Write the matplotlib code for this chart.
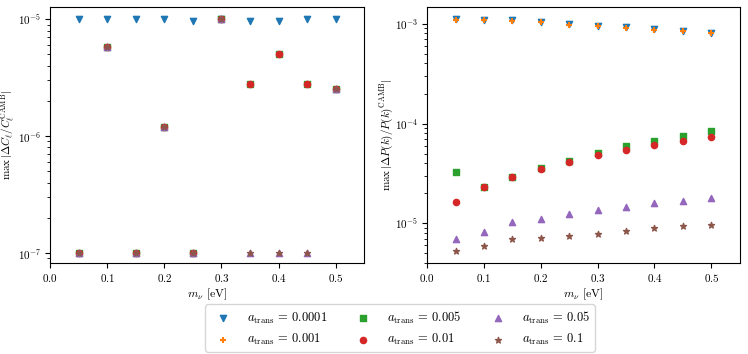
import matplotlib
matplotlib.use("Agg")
import matplotlib.pyplot as plt

plt.rcParams['mathtext.fontset'] = 'cm'
plt.rcParams['font.family'] = 'serif'
plt.rcParams['font.serif'] = ['cmr10', 'DejaVu Serif']
plt.rcParams['axes.formatter.use_mathtext'] = True

# neutrino masses [eV]
m_nu = [0.05, 0.10, 0.15, 0.20, 0.25, 0.30, 0.35, 0.40, 0.45, 0.50]

a_trans = ['0.0001', '0.001', '0.005', '0.01', '0.05', '0.1']
markers = ['v', '+', 's', 'o', '^', '*']
colors = ['C0', 'C1', 'C2', 'C3', 'C4', 'C5']

# left panel: max |dCl / Cl^CAMB|
cl_00001 = [1.0e-5, 1.0e-5, 1.0e-5, 1.0e-5, 0.97e-5, 1.0e-5, 0.97e-5, 0.96e-5, 1.0e-5, 1.0e-5]
cl_0001 = [1e-7, 5.8e-6, 1e-7, 1.2e-6, 1e-7, 1.0e-5, 2.8e-6, 5.0e-6, 2.8e-6, 2.55e-6]
cl_0005 = [1e-7, 5.8e-6, 1e-7, 1.2e-6, 1e-7, 1.0e-5, 2.8e-6, 5.0e-6, 2.8e-6, 2.55e-6]
cl_001 = [1e-7, 5.8e-6, 1e-7, 1.2e-6, 1e-7, 1.0e-5, 2.8e-6, 5.0e-6, 2.8e-6, 2.55e-6]
cl_005 = [1e-7, 5.8e-6, 1e-7, 1.2e-6, 1e-7, 1.0e-5, 1e-7, 1e-7, 1e-7, 2.55e-6]
cl_01 = [1e-7, 5.8e-6, 1e-7, 1.2e-6, 1e-7, 1.0e-5, 1e-7, 1e-7, 1e-7, 2.55e-6]

# right panel: max |dP(k) / P(k)^CAMB|
pk_00001 = [1.11e-3, 1.10e-3, 1.08e-3, 1.05e-3, 1.00e-3, 0.96e-3, 0.93e-3, 0.88e-3, 0.85e-3, 0.81e-3]
pk_0001 = [1.09e-3, 1.08e-3, 1.06e-3, 1.03e-3, 0.98e-3, 0.95e-3, 0.91e-3, 0.87e-3, 0.84e-3, 0.80e-3]
pk_0005 = [3.27e-5, 2.29e-5, 2.94e-5, 3.58e-5, 4.2e-5, 5.08e-5, 5.9e-5, 6.68e-5, 7.43e-5, 8.33e-5]
pk_001 = [1.65e-5, 2.29e-5, 2.9e-5, 3.53e-5, 4.14e-5, 4.82e-5, 5.44e-5, 6.05e-5, 6.68e-5, 7.31e-5]
pk_005 = [7.0e-6, 8.2e-6, 1.02e-5, 1.1e-5, 1.23e-5, 1.35e-5, 1.45e-5, 1.59e-5, 1.68e-5, 1.79e-5]
pk_01 = [5.24e-6, 5.9e-6, 7.0e-6, 7.05e-6, 7.43e-6, 7.83e-6, 8.33e-6, 8.98e-6, 9.34e-6, 9.7e-6]

cl_data = [cl_00001, cl_0001, cl_0005, cl_001, cl_005, cl_01]
pk_data = [pk_00001, pk_0001, pk_0005, pk_001, pk_005, pk_01]

fig = plt.figure(figsize=(7.48, 3.54), dpi=100)
ax1 = fig.add_axes([0.067, 0.257, 0.420, 0.723])
ax2 = fig.add_axes([0.571, 0.257, 0.418, 0.723])

for ax, data in [(ax1, cl_data), (ax2, pk_data)]:
    for vals, mk, col, a in zip(data, markers, colors, a_trans):
        ax.scatter(m_nu, vals, marker=mk, color=col, s=20,
                   label=r'$a_{\rm trans}\, =\, %s$' % a)
    ax.set_yscale('log')
    ax.set_xlim(0, 0.55)
    ax.set_xlabel(r'$m_\nu$ [eV]', fontsize=8.5, labelpad=2)
    ax.tick_params(labelsize=8, pad=3)

ax1.set_ylim(8.2e-8, 1.27e-5)
ax2.set_ylim(4.0e-6, 1.47e-3)
ax1.set_ylabel(r'$\max\,|\Delta C_\ell/C_\ell^{\rm CAMB}|$', fontsize=8)
ax2.set_ylabel(r'$\max\,|\Delta P(k)/P(k)^{\rm CAMB}|$', fontsize=8)
ax1.yaxis.set_label_coords(-0.104, 0.5)
ax2.yaxis.set_label_coords(-0.104, 0.5)

handles, labels = ax1.get_legend_handles_labels()
fig.legend(handles, labels, loc='center', bbox_to_anchor=(0.535, 0.073), ncol=3,
           fontsize=9, columnspacing=1.9, handletextpad=0.9)

fig.savefig('out.png', dpi=100)
